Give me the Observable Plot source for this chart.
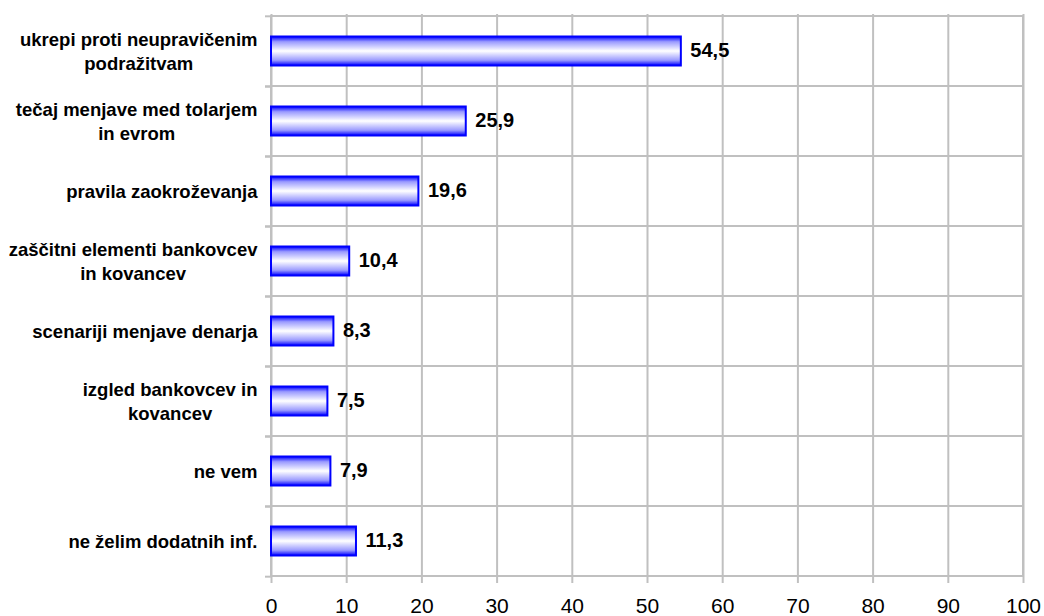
<!DOCTYPE html>
<html><head><meta charset="utf-8">
<script src="https://cdn.jsdelivr.net/npm/d3@7"></script>
<script src="https://cdn.jsdelivr.net/npm/@observablehq/plot@0.6"></script>
<style>html,body{margin:0;padding:0;background:#fff;} svg{display:block}</style>
</head><body><div id="chart"></div>
<script>
const categories = [
  "ukrepi proti neupravičenim\npodražitvam",
  "tečaj menjave med tolarjem\nin evrom",
  "pravila zaokroževanja",
  "zaščitni elementi bankovcev\nin kovancev",
  "scenariji menjave denarja",
  "izgled bankovcev in\nkovancev",
  "ne vem",
  "ne želim dodatnih inf."
];
const values = [54.5, 25.9, 19.6, 10.4, 8.3, 7.5, 7.9, 11.3];
const xTicks = [0, 10, 20, 30, 40, 50, 60, 70, 80, 90, 100];

const data = categories.map((c, i) => ({category: c, value: values[i]}));
const W = 1044, H = 616, mT = 14, mB = 39, mL = 271, mR = 21;
const bw = (H - mT - mB) / categories.length;
const gridColor = "#c0c0c0";

const chart = Plot.plot({
  width: W, height: H,
  marginTop: mT, marginBottom: mB, marginLeft: mL, marginRight: mR,
  style: {fontFamily: "'Liberation Sans', Arial, sans-serif", background: "#fff", color: "#000"},
  x: {domain: [0, 100], label: null},
  y: {domain: categories, padding: 0, label: null},
  marks: [
    Plot.ruleX(xTicks, {x: d => d, stroke: gridColor, strokeWidth: 2}),
    Plot.barX(categories, {y: d => d, x1: 0, x2: 100, fill: "none", stroke: gridColor, strokeWidth: 2}),
    Plot.ruleY(categories, {y: d => d, x1: 0, x2: 0, insetLeft: -6, dy: -bw / 2, stroke: gridColor, strokeWidth: 2}),
    Plot.ruleY(categories, {y: d => d, x1: 0, x2: 0, insetLeft: -6, dy: bw / 2, stroke: gridColor, strokeWidth: 2}),
    Plot.barX(data, {y: "category", x: "value", insetTop: 20.5, insetBottom: 20.5, fill: "url(#barGrad)", stroke: "#0000ff", strokeWidth: 2}),
    Plot.text(data, {y: "category", x: "value", text: d => d.value.toFixed(1).replace(".", ","), textAnchor: "start", dx: 9, dy: -1, fontSize: 20, fontWeight: "bold", fill: "#000"}),
    Plot.axisX(xTicks, {label: null, tickSize: 6, tickPadding: 15, fontSize: 21, stroke: gridColor, strokeWidth: 2, tickFormat: d => String(d)}),
    Plot.axisY({label: null, tickSize: 0, tickPadding: 14, dy: -1.5, fontSize: 18.5, fontWeight: "bold", lineHeight: 1.3})
  ]
});

// gradient definition for bars
const ns = "http://www.w3.org/2000/svg";
const defs = document.createElementNS(ns, "defs");
const grad = document.createElementNS(ns, "linearGradient");
grad.setAttribute("id", "barGrad");
grad.setAttribute("x1", "0"); grad.setAttribute("y1", "0");
grad.setAttribute("x2", "0"); grad.setAttribute("y2", "1");
[[0, "#0000ff"], [0.18, "#9a9aff"], [0.5, "#ffffff"], [0.82, "#9a9aff"], [1, "#0000ff"]].forEach(([o, c]) => {
  const s = document.createElementNS(ns, "stop");
  s.setAttribute("offset", o);
  s.setAttribute("stop-color", c);
  grad.appendChild(s);
});
defs.appendChild(grad);
chart.insertBefore(defs, chart.firstChild);

document.getElementById("chart").appendChild(chart);

// center multi-line category labels within their own block (right-aligned block)
chart.querySelectorAll('g[aria-label="y-axis tick label"] text').forEach(t => {
  const spans = t.querySelectorAll("tspan");
  if (spans.length < 2) return;
  let maxW = 0;
  spans.forEach(s => { maxW = Math.max(maxW, s.getComputedTextLength()); });
  t.setAttribute("text-anchor", "middle");
  spans.forEach(s => s.setAttribute("x", -maxW / 2));
});
</script>
</body></html>
